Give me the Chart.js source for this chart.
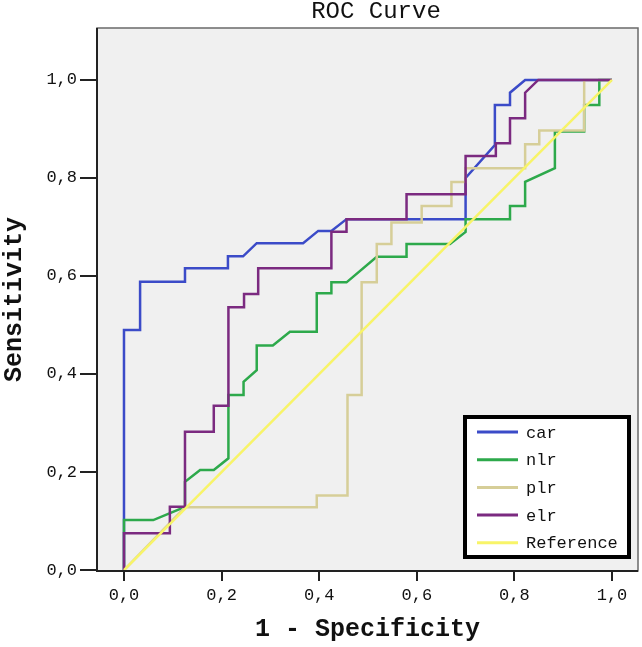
<!DOCTYPE html>
<html>
<head>
<meta charset="utf-8">
<script src="https://cdn.jsdelivr.net/npm/chart.js@4/dist/chart.umd.min.js"></script>
<style>
html,body{margin:0;padding:0;background:#fff;}
#wrap{width:642px;height:647px;}
</style>
</head>
<body>
<div id="wrap"><canvas id="c" width="642" height="647"></canvas></div>
<script>
// ---- data ----
const seriesNames = ['car', 'nlr', 'plr', 'elr', 'Reference'];
const carX = [0,0,0.033,0.033,0.125,0.125,0.213,0.213,0.244,0.272,0.367,0.398,0.425,0.456,0.70,0.70,0.76,0.76,0.791,0.791,0.822,1];
const carY = [0,0.49,0.49,0.588,0.588,0.616,0.616,0.64,0.64,0.667,0.667,0.692,0.692,0.716,0.716,0.80,0.867,0.949,0.949,0.974,1,1];
const nlrX = [0,0,0.06,0.125,0.125,0.156,0.184,0.214,0.214,0.245,0.245,0.272,0.272,0.305,0.34,0.395,0.395,0.425,0.425,0.456,0.518,0.579,0.579,0.668,0.70,0.70,0.791,0.791,0.822,0.822,0.883,0.883,0.943,0.943,0.974,0.974,1];
const nlrY = [0,0.102,0.102,0.129,0.18,0.204,0.204,0.228,0.357,0.357,0.384,0.408,0.458,0.458,0.486,0.486,0.565,0.565,0.587,0.587,0.639,0.639,0.665,0.665,0.69,0.716,0.716,0.743,0.743,0.792,0.82,0.895,0.895,0.949,0.949,1,1];
const plrX = [0,0.125,0.395,0.395,0.458,0.458,0.487,0.487,0.518,0.518,0.548,0.548,0.61,0.61,0.671,0.671,0.70,0.70,0.822,0.822,0.851,0.851,0.943,0.943,1];
const plrY = [0,0.128,0.128,0.152,0.152,0.357,0.357,0.587,0.587,0.665,0.665,0.709,0.709,0.743,0.743,0.792,0.792,0.82,0.82,0.869,0.869,0.897,0.897,1,1];
const elrX = [0,0,0.094,0.094,0.125,0.125,0.184,0.184,0.214,0.214,0.246,0.246,0.275,0.275,0.425,0.425,0.456,0.456,0.579,0.579,0.70,0.70,0.762,0.762,0.791,0.791,0.822,0.822,0.849,1];
const elrY = [0,0.075,0.075,0.129,0.129,0.282,0.282,0.335,0.335,0.536,0.536,0.563,0.563,0.616,0.616,0.69,0.69,0.716,0.716,0.767,0.767,0.845,0.845,0.871,0.871,0.922,0.922,0.974,1,1];
const refX = [0,1];
const refY = [0,1];
const tickValues = [0,0.2,0.4,0.6,0.8,1.0];
const titleText = 'ROC Curve';
const xTitle = '1 - Specificity';
const yTitle = 'Sensitivity';

// ---- styling ----
const colors = ['#3b4bc8', '#2da94b', '#d6ce98', '#7b2a80', '#f8f468'];
const FONT = "'Liberation Mono', 'DejaVu Sans Mono', monospace";

function pts(xs, ys){ return xs.map((x,i)=>({x:x, y:ys[i]})); }
const allX = [carX, nlrX, plrX, elrX, refX];
const allY = [carY, nlrY, plrY, elrY, refY];
const orders = [4,3,2,1,0];

const datasets = seriesNames.map((n,i)=>({
  label: n,
  data: pts(allX[i], allY[i]),
  borderColor: colors[i],
  backgroundColor: colors[i],
  borderWidth: 2.5,
  pointRadius: 0,
  showLine: true,
  tension: 0,
  fill: false,
  order: orders[i]
}));

const fmt = v => Number(v).toFixed(1).replace('.', ',');

const deco = {
  id: 'deco',
  beforeDraw(chart){
    const {ctx, chartArea:a} = chart;
    ctx.save();
    ctx.fillStyle = '#ffffff';
    ctx.fillRect(0,0,chart.width,chart.height);
    ctx.fillStyle = '#f0f0f0';
    ctx.fillRect(a.left, a.top, a.right-a.left, a.bottom-a.top);
    ctx.restore();
  },
  afterDatasetsDraw(chart){
    const {ctx, chartArea:a} = chart;
    ctx.save();
    // frame
    ctx.strokeStyle = '#6a6a6a';
    ctx.lineWidth = 1.5;
    ctx.strokeRect(a.left, a.top, a.right-a.left, a.bottom-a.top);
    ctx.strokeStyle = '#222';
    ctx.lineWidth = 2;
    ctx.beginPath();
    ctx.moveTo(a.left, a.top); ctx.lineTo(a.left, a.bottom); ctx.lineTo(a.right, a.bottom);
    ctx.stroke();
    // legend
    const L = 465, T = 417, R = 629, B = 557;
    ctx.fillStyle = '#ffffff';
    ctx.fillRect(L, T, R-L, B-T);
    ctx.strokeStyle = '#000';
    ctx.lineWidth = 4;
    ctx.strokeRect(L, T, R-L, B-T);
    ctx.font = '17px ' + FONT;
    ctx.textBaseline = 'middle';
    ctx.textAlign = 'left';
    chart.data.datasets.forEach((d,i)=>{
      const y = 432 + i*27.7;
      ctx.strokeStyle = d.borderColor;
      ctx.lineWidth = 3;
      ctx.beginPath(); ctx.moveTo(477, y); ctx.lineTo(518, y); ctx.stroke();
      ctx.fillStyle = '#111';
      ctx.fillText(d.label, 526, y+1);
    });
    // title
    ctx.font = '24px ' + FONT;
    ctx.textAlign = 'center';
    ctx.fillStyle = '#111';
    ctx.fillText(titleText, 376, 12);
    ctx.restore();
  }
};

new Chart(document.getElementById('c'), {
  type: 'scatter',
  data: { datasets },
  options: {
    responsive: false,
    animation: false,
    devicePixelRatio: 1,
    layout: { padding: { top: 28, right: 4, left: 0, bottom: 0 } },
    plugins: { legend: { display: false }, tooltip: { enabled: false }, title: { display: false } },
    scales: {
      x: {
        type: 'linear',
        min: -0.0553, max: 1.0533,
        afterBuildTicks: s => { s.ticks = tickValues.map(v=>({value:v})); },
        afterFit: s => { s.height = 647 - 571; },
        ticks: { callback: v => fmt(v), color: '#111', font: { family: FONT, size: 17 }, padding: 4, maxRotation: 0, autoSkip: false },
        grid: { drawOnChartArea: false, drawTicks: true, tickLength: 10, color: '#222', lineWidth: 2 },
        border: { display: false },
        title: { display: true, text: xTitle, color: '#111', font: { family: FONT, size: 25, weight: 'bold' }, padding: { top: 0, bottom: 2 } }
      },
      y: {
        type: 'linear',
        min: -0.002, max: 1.106,
        afterBuildTicks: s => { s.ticks = tickValues.map(v=>({value:v})); },
        afterFit: s => { s.width = 97; },
        ticks: { callback: v => fmt(v), color: '#111', font: { family: FONT, size: 17 }, padding: 3, autoSkip: false },
        grid: { drawOnChartArea: false, drawTicks: true, tickLength: 17, color: '#222', lineWidth: 2 },
        border: { display: false },
        title: { display: true, text: yTitle, color: '#111', font: { family: FONT, size: 25, weight: 'bold' }, padding: { top: 0, bottom: 0 } }
      }
    }
  },
  plugins: [deco]
});
</script>
</body>
</html>
